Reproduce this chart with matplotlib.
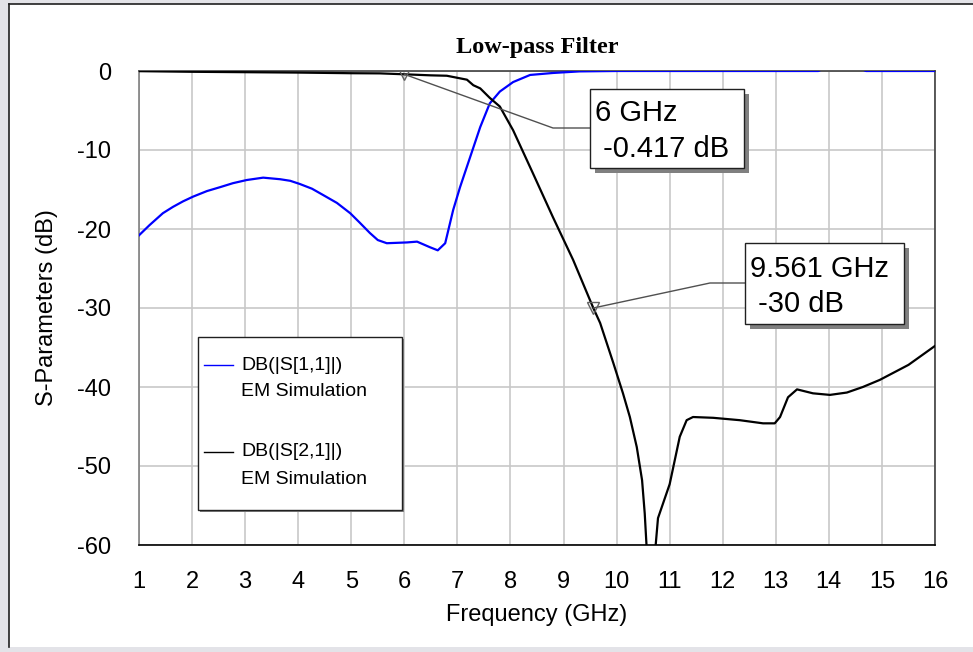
import matplotlib
matplotlib.use("Agg")
import matplotlib.pyplot as plt
from matplotlib.patches import Rectangle
from matplotlib.lines import Line2D

# ---------------- data ----------------
s11_freq = [1.0, 1.2, 1.45, 1.64, 1.83, 2.02, 2.28, 2.53, 2.77, 3.03, 3.34, 3.66, 3.85,
            4.03, 4.26, 4.47, 4.73, 4.98, 5.16, 5.35, 5.5, 5.67,
            6.05, 6.24, 6.48, 6.63, 6.77, 6.92, 7.05, 7.2, 7.43, 7.61, 7.8, 8.05,
            8.37, 8.8, 9.3, 10.0, 11.0, 12.0, 13.0, 13.8, 13.85, 14.65, 14.7, 15.0, 16.0]
s11_db = [-20.8, -19.5, -18.0, -17.2, -16.5, -15.9, -15.2, -14.7, -14.2, -13.8, -13.5, -13.7,
          -13.9, -14.3, -14.9, -15.7, -16.7, -18.0, -19.2, -20.5, -21.4, -21.8,
          -21.7, -21.6, -22.3, -22.7, -21.8, -17.6, -14.7, -11.7, -7.1, -4.1, -2.6, -1.4,
          -0.5, -0.25, -0.05, 0.0, 0.0, 0.0, 0.0, 0.0, 0.15, 0.15, 0.0, 0.0, 0.0]

s21_freq = [1.0, 2.0, 3.0, 4.0, 5.0, 5.54, 6.0, 6.5, 6.8, 7.18, 7.3, 7.43, 7.61, 7.8, 8.05,
            8.42, 8.8, 9.18, 9.561, 9.69, 9.94, 10.12, 10.25, 10.38, 10.48, 10.53, 10.58,
            10.65, 10.73, 10.78, 11.0, 11.19, 11.32, 11.44, 11.82, 12.32, 12.76, 12.98,
            13.08, 13.23, 13.4, 13.7, 14.02, 14.34, 14.64, 14.96, 15.5, 16.0]
s21_db = [-0.02, -0.1, -0.15, -0.2, -0.28, -0.3, -0.417, -0.55, -0.6, -1.1, -1.8, -2.2, -3.4,
          -4.5, -7.5, -12.9, -18.5, -23.9, -30.0, -31.9, -37.0, -40.8, -43.8, -47.6, -51.8,
          -56.0, -62.0, -75.0, -60.5, -56.6, -52.3, -46.3, -44.2, -43.8, -43.9, -44.2, -44.6,
          -44.6, -43.8, -41.3, -40.3, -40.8, -41.0, -40.7, -40.0, -39.1, -37.2, -34.8]

series_names = ["DB(|S[1,1]|)", "DB(|S[2,1]|)"]
series_sub = ["EM Simulation", "EM Simulation"]
series_colors = ["#0000ff", "#000000"]

marker_freq = [6.0, 9.561]
marker_db = [-0.417, -30.0]
marker_labels = [("6 GHz", " -0.417 dB"), ("9.561 GHz", " -30 dB")]

x_ticks = list(range(1, 17))
y_ticks = [0, -10, -20, -30, -40, -50, -60]

# ---------------- figure ----------------
W, H = 973, 652
fig = plt.figure(figsize=(W / 100, H / 100), dpi=100, facecolor="#e3e3e8")

def P(px, py):
    return (px / W, 1 - py / H)

# white panel with dark top/left border
fig.patches.append(Rectangle(P(9, 647), (W - 9) / W, (647 - 4) / H,
                             transform=fig.transFigure, facecolor="white",
                             edgecolor="none", zorder=-10))
fig.lines.append(Line2D([9 / W, 9 / W], [1 - 647 / H, 1 - 4 / H], transform=fig.transFigure,
                        color="#202020", lw=1.2, zorder=-9))
fig.lines.append(Line2D([9 / W, 1], [1 - 4 / H, 1 - 4 / H], transform=fig.transFigure,
                        color="#202020", lw=1.2, zorder=-9))

L, R, T, B = 139, 935, 71, 545
ax = fig.add_axes([L / W, 1 - B / H, (R - L) / W, (B - T) / H])
ax.set_facecolor("white")
ax.set_xlim(1, 16)
ax.set_ylim(-60, 0)

sans = "Liberation Sans"

ax.set_xticks(x_ticks)
ax.set_yticks(y_ticks)
ax.set_xticklabels([str(t) for t in x_ticks], fontsize=17, family=sans)
ax.set_yticklabels([str(t) for t in y_ticks], fontsize=17, family=sans)
ax.tick_params(length=0, pad=20)
ax.tick_params(axis="x", pad=19)
ax.grid(True, color="#c8c8c8", lw=1.2)
ax.set_axisbelow(True)
for sp in ax.spines.values():
    sp.set_color("#404040")
    sp.set_linewidth(1.2)
ax.spines["left"].set_color("#808080")
ax.spines["bottom"].set_color("#000000")

ax.set_xlabel("Frequency (GHz)", fontsize=17, family=sans, labelpad=8)
ax.set_ylabel("S-Parameters (dB)", fontsize=17, family=sans, labelpad=14)
fig.text(537 / W, 1 - 53 / H, "Low-pass Filter", ha="center", va="baseline",
         fontsize=17.5, fontweight="bold", family="Liberation Serif")

ax.plot(s11_freq, s11_db, color=series_colors[0], lw=1.6, zorder=3,
        solid_joinstyle="round")
ax.plot(s21_freq, s21_db, color=series_colors[1], lw=1.6, zorder=4,
        solid_joinstyle="round")

def fx(px):
    return 1 + (px - L) * 15 / (R - L)

def fy(py):
    return -(py - T) * 60 / (B - T)

# ---------------- markers + callouts ----------------
callouts = [
    dict(elbow=(553, 128), box=(590, 89, 744, 168), lines=[(595, 121), (595, 157)]),
    dict(elbow=(710, 283), box=(745, 243, 904, 324), lines=[(750, 277), (750, 312)]),
]
for (mf, md, lab, c) in zip(marker_freq, marker_db, marker_labels, callouts):
    ex, ey = c["elbow"]
    x0, y0, x1, y1 = c["box"]
    ax.plot([mf, fx(ex), fx(x0)], [md, fy(ey), fy(ey)], color="#505050", lw=1.0,
            zorder=6, clip_on=False)
    ax.plot([mf], [md], marker="v", ms=9, mfc="none", mec="#606060", mew=1.0, zorder=7)
    # shadow
    fig.patches.append(Rectangle(P(x0 + 5, y1 + 5), (x1 - x0) / W, (y1 - y0) / H,
                                 transform=fig.transFigure, facecolor="#808080",
                                 edgecolor="none", zorder=8))
    fig.patches.append(Rectangle(P(x0, y1), (x1 - x0) / W, (y1 - y0) / H,
                                 transform=fig.transFigure, facecolor="white",
                                 edgecolor="#202020", lw=1.0, zorder=9))
    for txt, (tx, ty) in zip(lab, c["lines"]):
        fig.text(tx / W, 1 - ty / H, txt, ha="left", va="baseline", fontsize=21,
                 family=sans, zorder=10)

# ---------------- legend ----------------
lx0, ly0, lx1, ly1 = 198, 337, 402, 510
fig.patches.append(Rectangle(P(lx0 + 2, ly1 + 2), (lx1 - lx0) / W, (ly1 - ly0) / H,
                             transform=fig.transFigure, facecolor="#808080",
                             edgecolor="none", zorder=8))
fig.patches.append(Rectangle(P(lx0, ly1), (lx1 - lx0) / W, (ly1 - ly0) / H,
                             transform=fig.transFigure, facecolor="white",
                             edgecolor="#202020", lw=1.0, zorder=9))
leg_y = [365, 452]
for name, sub, col, yy in zip(series_names, series_sub, series_colors, leg_y):
    fig.lines.append(Line2D([204 / W, 233 / W], [1 - yy / H, 1 - yy / H],
                            transform=fig.transFigure, color=col, lw=1.0, zorder=10))
    fig.text(241 / W, 1 - yy / H, name, ha="left", va="center", fontsize=14,
             family=sans, zorder=10)
    fig.text(241 / W, 1 - (yy + 27) / H, sub, ha="left", va="center", fontsize=14,
             family=sans, zorder=10)

fig.savefig("out.png", dpi=100, facecolor=fig.get_facecolor())
